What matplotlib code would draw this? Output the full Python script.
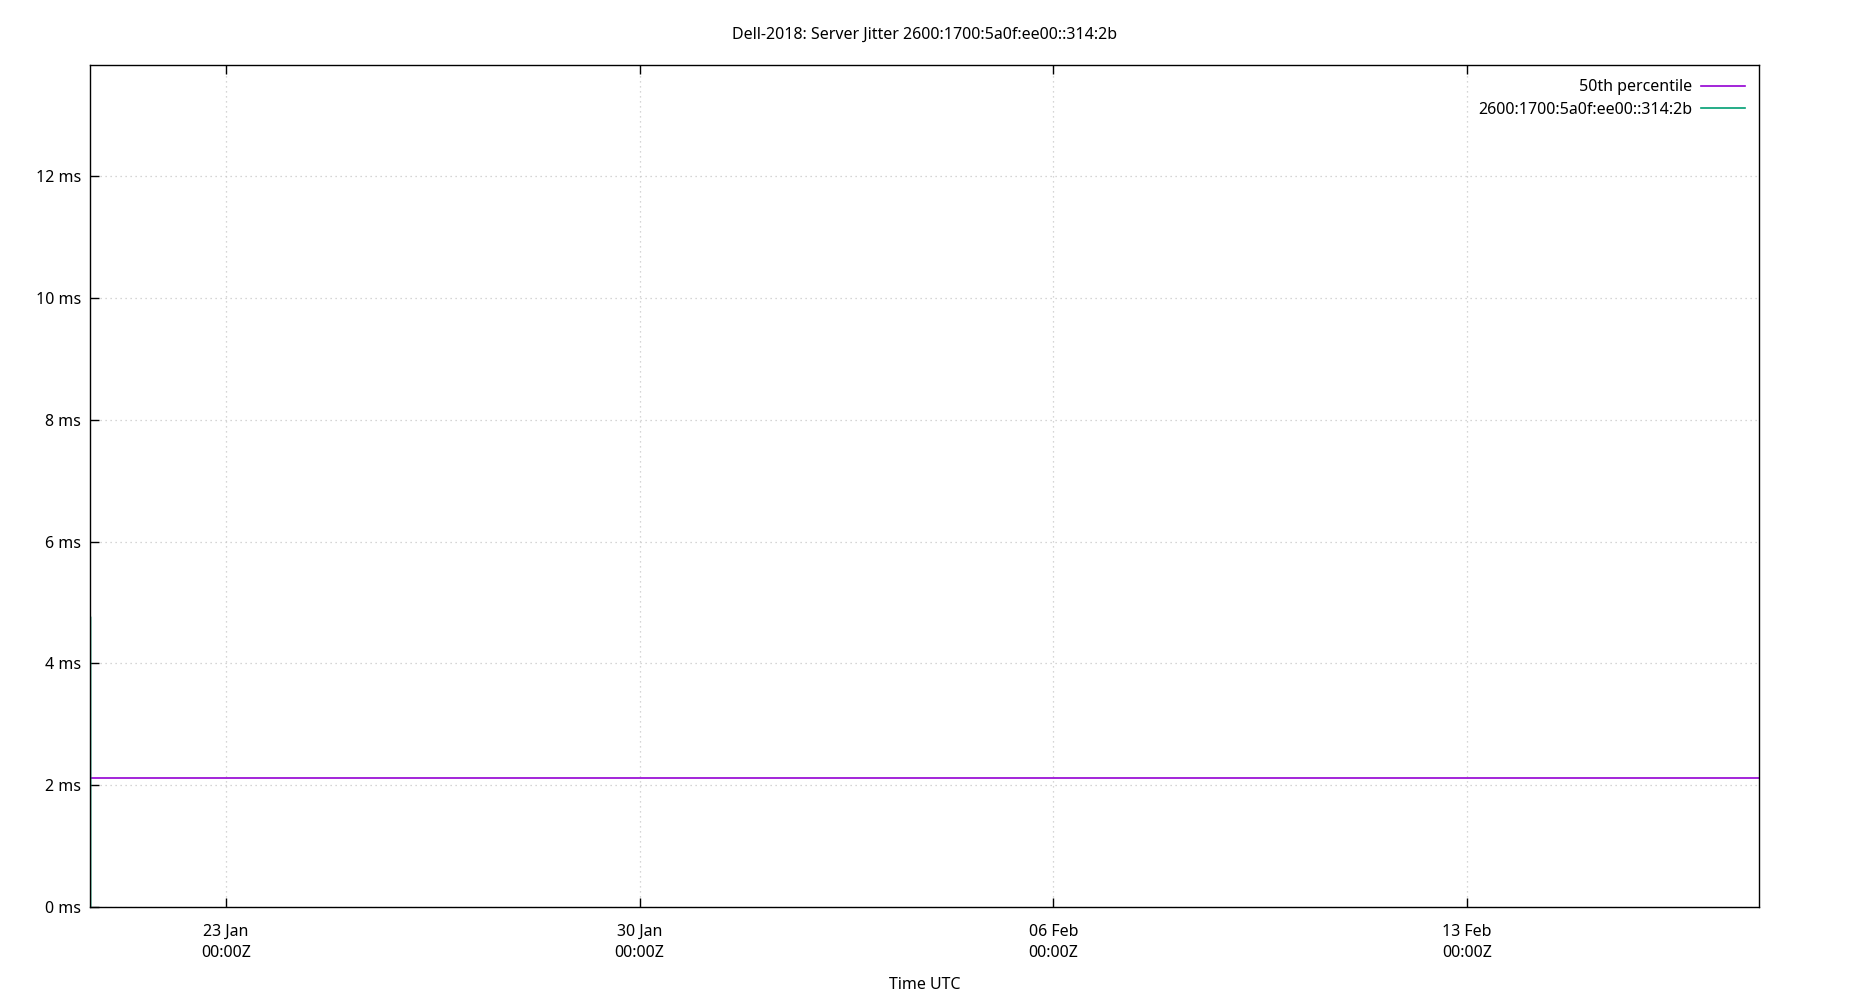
import matplotlib
matplotlib.use("Agg")
import matplotlib.pyplot as plt
import matplotlib.dates as mdates
import numpy as np
from datetime import datetime, timedelta

# ---- data ----
title = "Dell-2018: Server Jitter 2600:1700:5a0f:ee00::314:2b"
x_label = "Time UTC"
series_names = ["50th percentile", "2600:1700:5a0f:ee00::314:2b"]
series_colors = ["#9400d3", "#009e73"]

x_start = datetime(2023, 1, 20, 16, 46)
x_end = datetime(2023, 2, 17, 22, 35)

p50_times = [x_start, x_end]
p50_values = [2.12, 2.12]

jitter_times = [x_start + timedelta(minutes=22), x_start + timedelta(minutes=24)]
jitter_values = [4.76, 0.0]

x_ticks = [datetime(2023, 1, 23), datetime(2023, 1, 30),
           datetime(2023, 2, 6), datetime(2023, 2, 13)]
x_tick_labels = ["23 Jan\n00:00Z", "30 Jan\n00:00Z", "06 Feb\n00:00Z", "13 Feb\n00:00Z"]
y_ticks = [0, 2, 4, 6, 8, 10, 12]
y_tick_labels = ["0 ms", "2 ms", "4 ms", "6 ms", "8 ms", "10 ms", "12 ms"]
y_max = 13.83

# ---- plot ----
plt.rcParams['font.family'] = ['Noto Sans', 'DejaVu Sans']
plt.rcParams['font.size'] = 11.5

fig = plt.figure(figsize=(18.5, 10), dpi=100)
ax = fig.add_axes([90/1850, 93/1000, (1759-90)/1850, (907-65)/1000])

ax.plot(p50_times, p50_values, color=series_colors[0], lw=1.2, label=series_names[0])
ax.plot(jitter_times, jitter_values, color=series_colors[1], lw=0.8, alpha=0.8,
        label=series_names[1])

ax.set_xlim(x_start, x_end)
ax.set_ylim(0, y_max)
ax.set_xticks(x_ticks)
ax.set_xticklabels(x_tick_labels, linespacing=1.42)
ax.set_yticks(y_ticks)
ax.set_yticklabels(y_tick_labels)

ax.grid(True, color="#c8c8c8", lw=0.9, linestyle=(0, (1, 3)))
ax.set_axisbelow(True)

ax.tick_params(axis='x', direction='in', length=6.5, width=1, top=True, bottom=True, pad=12)
ax.tick_params(axis='y', direction='in', length=6.5, width=1, left=True, right=False, pad=6.5)
for s in ax.spines.values():
    s.set_linewidth(1.0)
    s.set_color("black")

ax.set_title(title, fontsize=11.5, pad=18.5)
ax.set_xlabel(x_label, fontsize=11.5, labelpad=12)

leg = ax.legend(loc='upper right', frameon=False, markerfirst=False,
                handlelength=2.75, handletextpad=0.55, labelspacing=0.42,
                borderaxespad=0.5, borderpad=0.4)
for h in leg.get_lines():
    h.set_alpha(1.0)
    h.set_linewidth(1.2)

fig.savefig("out.png", dpi=100)
